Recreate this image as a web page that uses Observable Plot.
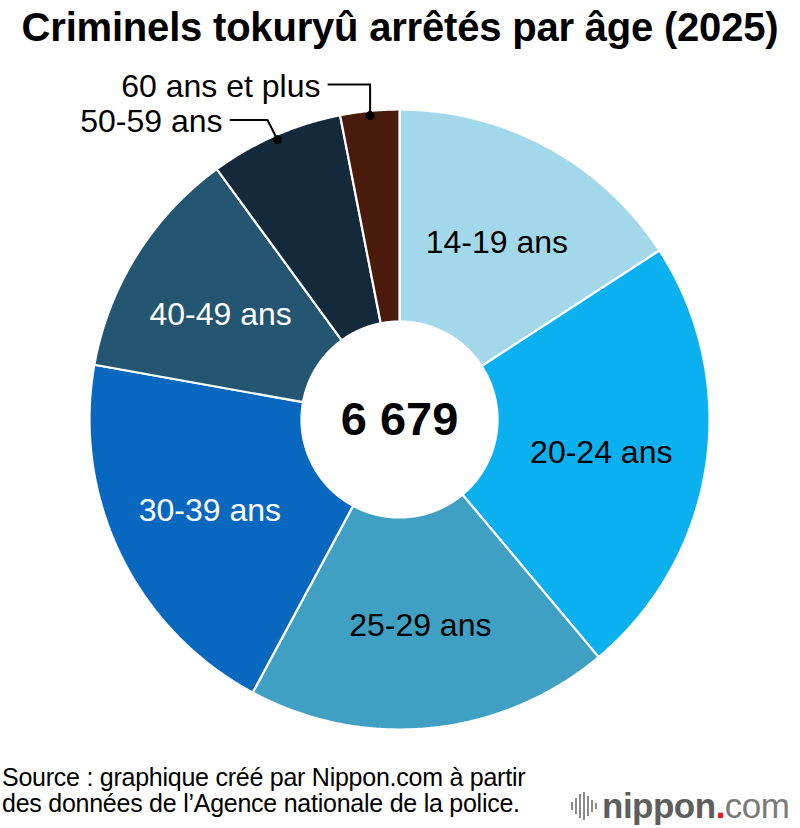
<!DOCTYPE html>
<html>
<head>
<meta charset="utf-8">
<script src="https://cdn.jsdelivr.net/npm/d3@7"></script>
<script src="https://cdn.jsdelivr.net/npm/@observablehq/plot@0.6"></script>
<style>
  html, body { margin: 0; padding: 0; background: #fff; }
  body { width: 800px; height: 828px; position: relative; overflow: hidden;
         font-family: "Liberation Sans", Arial, Helvetica, sans-serif; }
  #title { position: absolute; left: 0; top: 7px; width: 800px; text-align: center;
           font-size: 40px; line-height: 40px; font-weight: bold; color: #000; letter-spacing: -0.2px; }
  #chart { position: absolute; left: 0; top: 55px; }
  #source { position: absolute; left: 2px; top: 764px; font-size: 25px; line-height: 26px; color: #000; letter-spacing: -0.25px; }
  #logo { position: absolute; left: 570px; top: 784px; height: 44px; display: flex; align-items: center; }
  #logo .word { font-size: 35px; color: #5e5e5e; font-weight: bold; letter-spacing: -0.5px; }
  #logo .dot { color: #e8161b; font-weight: bold; }
  #logo .com { color: #7a7a7a; font-weight: normal; }
</style>
</head>
<body>
<div id="title">Criminels tokuryû arrêtés par âge (2025)</div>
<div id="chart"></div>
<div id="source">Source : graphique créé par Nippon.com à partir<br>des données de l’Agence nationale de la police.</div>
<div id="logo">
  <svg width="30" height="30" viewBox="0 0 30 30" style="margin-right:2px">
    <g fill="#8a8a8a">
      <rect x="1" y="11" width="2" height="8"/>
      <rect x="5" y="7" width="2" height="16"/>
      <rect x="9" y="3" width="2" height="24"/>
      <rect x="13" y="1" width="2" height="28"/>
      <rect x="17" y="5" width="2" height="20"/>
      <rect x="21" y="9" width="2" height="12"/>
      <rect x="25" y="12" width="2" height="6"/>
    </g>
  </svg>
  <span class="word">nippon<span class="dot">.</span><span class="com">com</span></span>
</div>
<script>
// ---- data ----
const ages = ["14-19 ans", "20-24 ans", "25-29 ans", "30-39 ans", "40-49 ans", "50-59 ans", "60 ans et plus"];
const counts = [1057, 1541, 1266, 1334, 811, 465, 205];
const totalLabel = "6 679";
const palette = ["#a3d8ea", "#0bb0f0", "#40a0c4", "#0868c0", "#245672", "#14293a", "#4a1a0c"];
const insideAges = ["14-19 ans", "20-24 ans", "25-29 ans", "30-39 ans", "40-49 ans"];
const lightLabelAges = ["30-39 ans", "40-49 ans"];

// ---- geometry derived from data ----
const innerR = 98 / 310;
const total = d3.sum(counts);
let cum = 0;
const slices = ages.map((age, i) => {
  const a0 = cum / total * 2 * Math.PI;
  cum += counts[i];
  const a1 = cum / total * 2 * Math.PI;
  return {age, value: counts[i], a0, a1, mid: (a0 + a1) / 2};
});
const pt = (a, r) => ({x: r * Math.sin(a), y: r * Math.cos(a)});

const polys = [];
for (const s of slices) {
  const n = Math.max(8, Math.ceil((s.a1 - s.a0) / 0.005));
  const ring = [];
  for (let k = 0; k <= n; k++) ring.push(pt(s.a0 + (s.a1 - s.a0) * k / n, 1));
  for (let k = n; k >= 0; k--) ring.push(pt(s.a0 + (s.a1 - s.a0) * k / n, innerR));
  ring.push(ring[0]);
  ring.forEach((p, j) => polys.push({age: s.age, order: j, x: p.x, y: p.y}));
}

const labelR = (1 + innerR) / 2;
const inside = slices.filter(s => insideAges.includes(s.age)).map(s => ({age: s.age, light: lightLabelAges.includes(s.age), ...pt(s.mid, labelR)}));

// leader lines for the two small slices (layout constants in chart units)
const leaderSpec = {
  "60 ans et plus": {elbow: null, elbowY: 1.0806, endX: -0.229},
  "50-59 ans": {elbow: {x: -0.4258, y: 0.966}, endX: -0.545}
};
const leaders = [];
const dots = [];
const outsideLabels = [];
for (const s of slices.filter(s => !insideAges.includes(s.age))) {
  const d = pt(s.mid, 0.985);
  const spec = leaderSpec[s.age];
  dots.push({age: s.age, ...d});
  let elbow = spec.elbow ? spec.elbow : {x: d.x, y: spec.elbowY};
  const end = {x: spec.endX, y: elbow.y};
  [d, elbow, end].forEach((p, j) => leaders.push({age: s.age, order: j, ...p}));
  outsideLabels.push({age: s.age, ...end});
}

const chart = Plot.plot({
  width: 800,
  height: 700,
  marginLeft: 89,
  marginRight: 91,
  marginTop: 54,
  marginBottom: 26,
  x: {domain: [-1, 1], axis: null},
  y: {domain: [-1, 1], axis: null},
  color: {domain: ages, range: palette},
  style: {fontFamily: '"Liberation Sans", Arial, Helvetica, sans-serif', background: "transparent"},
  marks: [
    Plot.line(polys, {x: "x", y: "y", z: "age", fill: "age", stroke: "white", strokeWidth: 2.2, curve: "linear", strokeLinejoin: "miter"}),
    Plot.text(inside.filter(d => !d.light), {x: "x", y: "y", text: "age", fill: "black", fontSize: 32, dy: 3}),
    Plot.text(inside.filter(d => d.light), {x: "x", y: "y", text: "age", fill: "white", fontSize: 32, dy: 3, dx: -6}),
    Plot.text([totalLabel], {x: () => 0, y: () => 0, text: d => d, fill: "black", fontSize: 47, fontWeight: "bold", letterSpacing: -2}),
    Plot.line(leaders, {x: "x", y: "y", z: "age", stroke: "black", strokeWidth: 2, curve: "linear"}),
    Plot.dot(dots, {x: "x", y: "y", r: 4.5, fill: "black", stroke: null}),
    Plot.text(outsideLabels, {x: "x", y: "y", text: "age", textAnchor: "end", dx: -8, dy: 2, fill: "black", fontSize: 32})
  ]
});
document.getElementById("chart").appendChild(chart);
</script>
</body>
</html>
